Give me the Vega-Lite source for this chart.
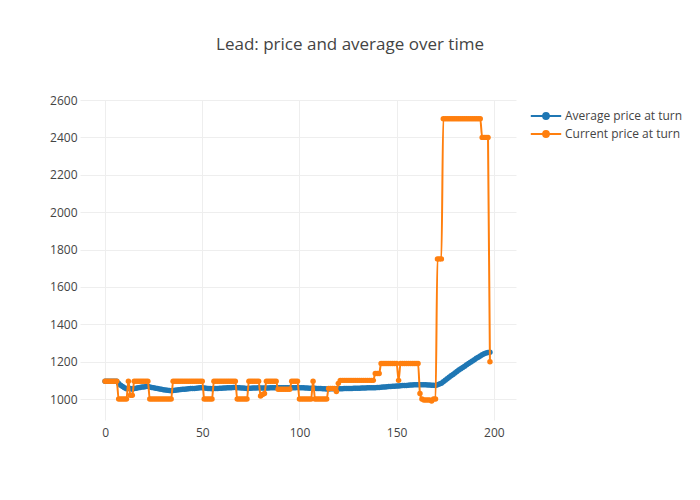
{
  "$schema": "https://vega.github.io/schema/vega-lite/v6.json",
  "width": 436,
  "height": 320,
  "autosize": "none",
  "padding": {"left": 80, "top": 100, "right": 184, "bottom": 80},
  "background": "white",
  "title": {
    "text": "Lead: price and average over time",
    "font": "Open Sans",
    "fontSize": 17,
    "fontWeight": "normal",
    "color": "#444",
    "anchor": "middle",
    "dx": 52,
    "offset": 40
  },
  "datasets": {
    "avg": [
      {"turn":0,"price":1095},{"turn":1,"price":1095},{"turn":2,"price":1095},{"turn":3,"price":1095},{"turn":4,"price":1095},{"turn":5,"price":1095},{"turn":6,"price":1095},{"turn":7,"price":1083},{"turn":8,"price":1074},{"turn":9,"price":1067},
      {"turn":10,"price":1061},{"turn":11,"price":1055},{"turn":12,"price":1058},{"turn":13,"price":1056},{"turn":14,"price":1053},{"turn":15,"price":1056},{"turn":16,"price":1058},{"turn":17,"price":1060},{"turn":18,"price":1062},{"turn":19,"price":1064},
      {"turn":20,"price":1065},{"turn":21,"price":1067},{"turn":22,"price":1068},{"turn":23,"price":1065},{"turn":24,"price":1062},{"turn":25,"price":1060},{"turn":26,"price":1058},{"turn":27,"price":1056},{"turn":28,"price":1054},{"turn":29,"price":1052},
      {"turn":30,"price":1050},{"turn":31,"price":1049},{"turn":32,"price":1047},{"turn":33,"price":1046},{"turn":34,"price":1045},{"turn":35,"price":1046},{"turn":36,"price":1047},{"turn":37,"price":1049},{"turn":38,"price":1050},{"turn":39,"price":1051},
      {"turn":40,"price":1052},{"turn":41,"price":1053},{"turn":42,"price":1054},{"turn":43,"price":1055},{"turn":44,"price":1056},{"turn":45,"price":1057},{"turn":46,"price":1057},{"turn":47,"price":1058},{"turn":48,"price":1059},{"turn":49,"price":1060},
      {"turn":50,"price":1060},{"turn":51,"price":1059},{"turn":52,"price":1058},{"turn":53,"price":1057},{"turn":54,"price":1056},{"turn":55,"price":1055},{"turn":56,"price":1056},{"turn":57,"price":1056},{"turn":58,"price":1057},{"turn":59,"price":1058},
      {"turn":60,"price":1058},{"turn":61,"price":1059},{"turn":62,"price":1059},{"turn":63,"price":1060},{"turn":64,"price":1061},{"turn":65,"price":1061},{"turn":66,"price":1062},{"turn":67,"price":1062},{"turn":68,"price":1061},{"turn":69,"price":1060},
      {"turn":70,"price":1059},{"turn":71,"price":1059},{"turn":72,"price":1058},{"turn":73,"price":1057},{"turn":74,"price":1058},{"turn":75,"price":1058},{"turn":76,"price":1059},{"turn":77,"price":1059},{"turn":78,"price":1059},{"turn":79,"price":1060},
      {"turn":80,"price":1059},{"turn":81,"price":1059},{"turn":82,"price":1059},{"turn":83,"price":1059},{"turn":84,"price":1059},{"turn":85,"price":1060},{"turn":86,"price":1060},{"turn":87,"price":1061},{"turn":88,"price":1061},{"turn":89,"price":1061},
      {"turn":90,"price":1061},{"turn":91,"price":1061},{"turn":92,"price":1061},{"turn":93,"price":1060},{"turn":94,"price":1060},{"turn":95,"price":1060},{"turn":96,"price":1061},{"turn":97,"price":1061},{"turn":98,"price":1061},{"turn":99,"price":1062},
      {"turn":100,"price":1061},{"turn":101,"price":1060},{"turn":102,"price":1060},{"turn":103,"price":1059},{"turn":104,"price":1059},{"turn":105,"price":1058},{"turn":106,"price":1058},{"turn":107,"price":1058},{"turn":108,"price":1058},{"turn":109,"price":1057},
      {"turn":110,"price":1056},{"turn":111,"price":1056},{"turn":112,"price":1055},{"turn":113,"price":1055},{"turn":114,"price":1054},{"turn":115,"price":1054},{"turn":116,"price":1055},{"turn":117,"price":1055},{"turn":118,"price":1055},{"turn":119,"price":1054},
      {"turn":120,"price":1055},{"turn":121,"price":1055},{"turn":122,"price":1055},{"turn":123,"price":1056},{"turn":124,"price":1056},{"turn":125,"price":1056},{"turn":126,"price":1057},{"turn":127,"price":1057},{"turn":128,"price":1058},{"turn":129,"price":1058},
      {"turn":130,"price":1058},{"turn":131,"price":1058},{"turn":132,"price":1059},{"turn":133,"price":1059},{"turn":134,"price":1059},{"turn":135,"price":1060},{"turn":136,"price":1060},{"turn":137,"price":1060},{"turn":138,"price":1061},{"turn":139,"price":1061},
      {"turn":140,"price":1062},{"turn":141,"price":1062},{"turn":142,"price":1063},{"turn":143,"price":1064},{"turn":144,"price":1065},{"turn":145,"price":1066},{"turn":146,"price":1067},{"turn":147,"price":1067},{"turn":148,"price":1068},{"turn":149,"price":1069},
      {"turn":150,"price":1070},{"turn":151,"price":1070},{"turn":152,"price":1071},{"turn":153,"price":1072},{"turn":154,"price":1072},{"turn":155,"price":1073},{"turn":156,"price":1074},{"turn":157,"price":1075},{"turn":158,"price":1075},{"turn":159,"price":1076},
      {"turn":160,"price":1077},{"turn":161,"price":1077},{"turn":162,"price":1077},{"turn":163,"price":1077},{"turn":164,"price":1076},{"turn":165,"price":1076},{"turn":166,"price":1075},{"turn":167,"price":1075},{"turn":168,"price":1074},{"turn":169,"price":1074},
      {"turn":170,"price":1073},{"turn":171,"price":1077},{"turn":172,"price":1081},{"turn":173,"price":1085},{"turn":174,"price":1093},{"turn":175,"price":1101},{"turn":176,"price":1109},{"turn":177,"price":1117},{"turn":178,"price":1125},{"turn":179,"price":1132},
      {"turn":180,"price":1140},{"turn":181,"price":1147},{"turn":182,"price":1155},{"turn":183,"price":1162},{"turn":184,"price":1169},{"turn":185,"price":1176},{"turn":186,"price":1183},{"turn":187,"price":1190},{"turn":188,"price":1197},{"turn":189,"price":1204},
      {"turn":190,"price":1211},{"turn":191,"price":1218},{"turn":192,"price":1224},{"turn":193,"price":1231},{"turn":194,"price":1237},{"turn":195,"price":1243},{"turn":196,"price":1247},{"turn":197,"price":1249},{"turn":198,"price":1250}
    ],
    "cur": [
      {"turn":0,"price":1095},{"turn":1,"price":1095},{"turn":2,"price":1095},{"turn":3,"price":1095},{"turn":4,"price":1095},{"turn":5,"price":1095},{"turn":6,"price":1095},{"turn":7,"price":1000},{"turn":8,"price":1000},{"turn":9,"price":1000},
      {"turn":10,"price":1000},{"turn":11,"price":1000},{"turn":12,"price":1095},{"turn":13,"price":1020},{"turn":14,"price":1020},{"turn":15,"price":1095},{"turn":16,"price":1095},{"turn":17,"price":1095},{"turn":18,"price":1095},{"turn":19,"price":1095},
      {"turn":20,"price":1095},{"turn":21,"price":1095},{"turn":22,"price":1095},{"turn":23,"price":1000},{"turn":24,"price":1000},{"turn":25,"price":1000},{"turn":26,"price":1000},{"turn":27,"price":1000},{"turn":28,"price":1000},{"turn":29,"price":1000},
      {"turn":30,"price":1000},{"turn":31,"price":1000},{"turn":32,"price":1000},{"turn":33,"price":1000},{"turn":34,"price":1000},{"turn":35,"price":1095},{"turn":36,"price":1095},{"turn":37,"price":1095},{"turn":38,"price":1095},{"turn":39,"price":1095},
      {"turn":40,"price":1095},{"turn":41,"price":1095},{"turn":42,"price":1095},{"turn":43,"price":1095},{"turn":44,"price":1095},{"turn":45,"price":1095},{"turn":46,"price":1095},{"turn":47,"price":1095},{"turn":48,"price":1095},{"turn":49,"price":1095},
      {"turn":50,"price":1095},{"turn":51,"price":1000},{"turn":52,"price":1000},{"turn":53,"price":1000},{"turn":54,"price":1000},{"turn":55,"price":1000},{"turn":56,"price":1095},{"turn":57,"price":1095},{"turn":58,"price":1095},{"turn":59,"price":1095},
      {"turn":60,"price":1095},{"turn":61,"price":1095},{"turn":62,"price":1095},{"turn":63,"price":1095},{"turn":64,"price":1095},{"turn":65,"price":1095},{"turn":66,"price":1095},{"turn":67,"price":1095},{"turn":68,"price":1000},{"turn":69,"price":1000},
      {"turn":70,"price":1000},{"turn":71,"price":1000},{"turn":72,"price":1000},{"turn":73,"price":1000},{"turn":74,"price":1095},{"turn":75,"price":1095},{"turn":76,"price":1095},{"turn":77,"price":1095},{"turn":78,"price":1095},{"turn":79,"price":1095},
      {"turn":80,"price":1016},{"turn":81,"price":1025},{"turn":82,"price":1030},{"turn":83,"price":1095},{"turn":84,"price":1095},{"turn":85,"price":1095},{"turn":86,"price":1095},{"turn":87,"price":1095},{"turn":88,"price":1095},{"turn":89,"price":1052},
      {"turn":90,"price":1052},{"turn":91,"price":1052},{"turn":92,"price":1052},{"turn":93,"price":1052},{"turn":94,"price":1052},{"turn":95,"price":1052},{"turn":96,"price":1095},{"turn":97,"price":1095},{"turn":98,"price":1095},{"turn":99,"price":1095},
      {"turn":100,"price":1000},{"turn":101,"price":1000},{"turn":102,"price":1000},{"turn":103,"price":1000},{"turn":104,"price":1000},{"turn":105,"price":1000},{"turn":106,"price":1000},{"turn":107,"price":1095},{"turn":108,"price":1000},{"turn":109,"price":1000},
      {"turn":110,"price":1000},{"turn":111,"price":1000},{"turn":112,"price":1000},{"turn":113,"price":1000},{"turn":114,"price":1000},{"turn":115,"price":1057},{"turn":116,"price":1057},{"turn":117,"price":1057},{"turn":118,"price":1057},{"turn":119,"price":1040},
      {"turn":120,"price":1084},{"turn":121,"price":1100},{"turn":122,"price":1100},{"turn":123,"price":1100},{"turn":124,"price":1100},{"turn":125,"price":1100},{"turn":126,"price":1100},{"turn":127,"price":1100},{"turn":128,"price":1100},{"turn":129,"price":1100},
      {"turn":130,"price":1100},{"turn":131,"price":1100},{"turn":132,"price":1100},{"turn":133,"price":1100},{"turn":134,"price":1100},{"turn":135,"price":1100},{"turn":136,"price":1100},{"turn":137,"price":1100},{"turn":138,"price":1100},{"turn":139,"price":1137},
      {"turn":140,"price":1137},{"turn":141,"price":1137},{"turn":142,"price":1190},{"turn":143,"price":1190},{"turn":144,"price":1190},{"turn":145,"price":1190},{"turn":146,"price":1190},{"turn":147,"price":1190},{"turn":148,"price":1190},{"turn":149,"price":1190},
      {"turn":150,"price":1190},{"turn":151,"price":1100},{"turn":152,"price":1190},{"turn":153,"price":1190},{"turn":154,"price":1190},{"turn":155,"price":1190},{"turn":156,"price":1190},{"turn":157,"price":1190},{"turn":158,"price":1190},{"turn":159,"price":1190},
      {"turn":160,"price":1190},{"turn":161,"price":1190},{"turn":162,"price":1030},{"turn":163,"price":1000},{"turn":164,"price":995},{"turn":165,"price":995},{"turn":166,"price":995},{"turn":167,"price":995},{"turn":168,"price":990},{"turn":169,"price":1000},
      {"turn":170,"price":1000},{"turn":171,"price":1750},{"turn":172,"price":1750},{"turn":173,"price":1750},{"turn":174,"price":2500},{"turn":175,"price":2500},{"turn":176,"price":2500},{"turn":177,"price":2500},{"turn":178,"price":2500},{"turn":179,"price":2500},
      {"turn":180,"price":2500},{"turn":181,"price":2500},{"turn":182,"price":2500},{"turn":183,"price":2500},{"turn":184,"price":2500},{"turn":185,"price":2500},{"turn":186,"price":2500},{"turn":187,"price":2500},{"turn":188,"price":2500},{"turn":189,"price":2500},
      {"turn":190,"price":2500},{"turn":191,"price":2500},{"turn":192,"price":2500},{"turn":193,"price":2500},{"turn":194,"price":2400},{"turn":195,"price":2400},{"turn":196,"price":2400},{"turn":197,"price":2400},{"turn":198,"price":1200}
    ]
  },
  "layer": [
    {
      "data": {"name": "avg"},
      "mark": {"type": "line", "strokeWidth": 2, "interpolate": "monotone", "point": {"filled": true, "size": 30}},
      "encoding": {
        "x": {
          "field": "turn",
          "type": "quantitative",
          "scale": {"domain": [-12.9, 211.4], "nice": false, "zero": false},
          "axis": {"values": [0, 50, 100, 150, 200], "title": null}
        },
        "y": {
          "field": "price",
          "type": "quantitative",
          "scale": {"domain": [888, 2600], "nice": false, "zero": false},
          "axis": {"values": [1000, 1200, 1400, 1600, 1800, 2000, 2200, 2400, 2600], "format": "d", "labelOverlap": false, "labelSeparation": 0, "title": null}
        },
        "color": {
          "datum": "Average price at turn",
          "type": "nominal",
          "scale": {"domain": ["Average price at turn", "Current price at turn"], "range": ["#1f77b4", "#ff7f0e"]},
          "legend": {
            "title": null,
            "orient": "none",
            "legendX": 457,
            "legendY": 7,
            "symbolType": "M-1.9,0H1.9M0.36,0A0.36,0.36,0,1,1,-0.36,0A0.36,0.36,0,1,1,0.36,0Z",
            "symbolSize": 256,
            "symbolStrokeWidth": 2,
            "labelFont": "Open Sans",
            "labelFontSize": 12,
            "labelColor": "#444",
            "labelOffset": 10,
            "rowPadding": 2
          }
        }
      }
    },
    {
      "data": {"name": "cur"},
      "mark": {"type": "line", "strokeWidth": 2, "interpolate": "monotone", "point": {"filled": true, "size": 30}},
      "encoding": {
        "x": {"field": "turn", "type": "quantitative", "axis": {"values": [0, 50, 100, 150, 200], "title": null}},
        "y": {"field": "price", "type": "quantitative", "axis": {"values": [1000, 1200, 1400, 1600, 1800, 2000, 2200, 2400, 2600], "format": "d", "labelOverlap": false, "labelSeparation": 0, "title": null}},
        "color": {"datum": "Current price at turn", "type": "nominal"}
      }
    },
    {
      "mark": {"type": "rule", "color": "#444", "strokeWidth": 1},
      "encoding": {"x": {"datum": 0}}
    }
  ],
  "config": {
    "view": {"stroke": null},
    "axis": {
      "grid": true,
      "gridColor": "#eee",
      "gridWidth": 1,
      "domain": false,
      "ticks": false,
      "labelFont": "Open Sans",
      "labelFontSize": 12,
      "labelColor": "#444"
    },
    "axisX": {"labelPadding": 7},
    "axisY": {"labelPadding": 3, "labelOverlap": false, "tickCount": 9}
  }
}
